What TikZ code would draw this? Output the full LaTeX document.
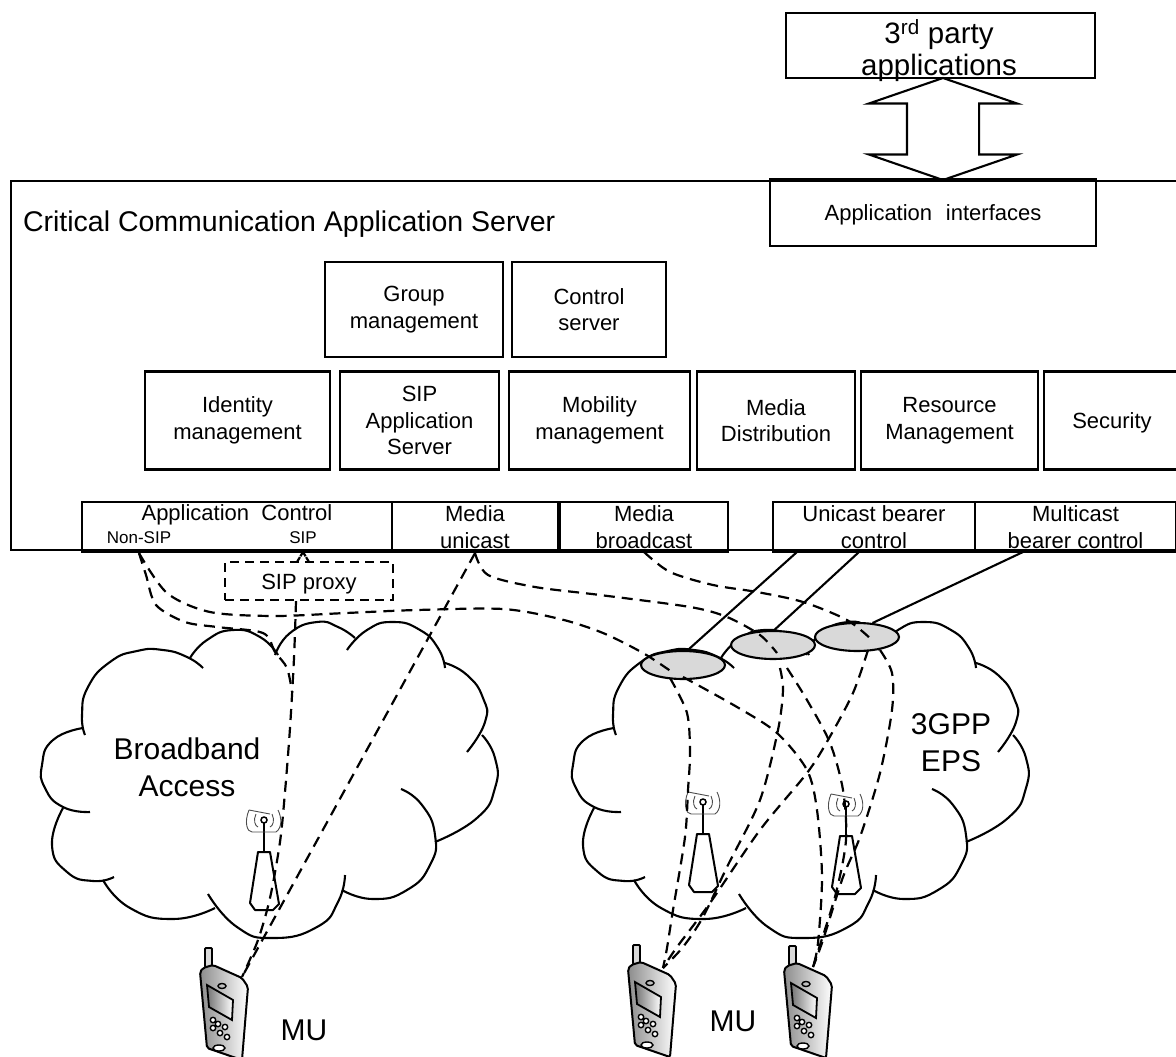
\documentclass[tikz,border=0pt]{standalone}
\usepackage{fontspec}
\setmainfont{Liberation Sans}
\usetikzlibrary{shapes.geometric,shapes.arrows}

\begin{document}
\begin{tikzpicture}[
    x=1pt, y=-1pt,
    line width=2.1pt,
    every node/.style={inner sep=0pt, align=center, font=\fontsize{22}{26.5}\selectfont},
    buscell/.style={draw=black, line width=2.2pt},
    blockbox/.style={buscell, execute at begin node=\rule{0pt}{21pt}},
    sublabel/.style={font=\fontsize{17}{20}\selectfont},
    biglabel/.style={font=\fontsize{30}{37}\selectfont},
    radiolink/.style={dash pattern=on 11pt off 7pt, line width=2.2pt},
    lobe/.style={smooth, tension=.9},
    bearer/.style={draw=black, ellipse, fill=black!15, minimum width=84pt, minimum height=28pt, line width=2.1pt},
    pics/accesscloud/.style={code={
      \draw plot[lobe] coordinates {(85,735) (82,715) (88,687) (110,662) (137,651) (163,650) (187,657) (203,668)};
      \draw plot[lobe] coordinates {(190,658) (207,640) (233,630) (260,637) (278,655)};
      \draw plot[lobe] coordinates {(275,655) (290,633) (317,622) (338,627) (355,638)};
      \draw plot[lobe] coordinates {(347,650) (367,630) (393,622) (420,630) (438,648) (445,668)};
      \draw plot[lobe] coordinates {(445,663) (467,675) (483,698) (485,722) (467,752)};
      \draw plot[lobe] coordinates {(482,735) (495,758) (495,788) (477,818) (435,842)};
      \draw plot[lobe] coordinates {(401,789) (422,805) (435,835) (430,865) (407,890) (373,899) (342,890)};
      \draw plot[lobe] coordinates {(345,875) (338,902) (317,927) (273,938) (237,927) (208,894)};
      \draw plot[lobe] coordinates {(215,908) (173,919) (130,908) (103,880)};
      \draw plot[lobe] coordinates {(114,877) (93,881) (67,872) (52,845) (63,808)};
      \draw plot[lobe] coordinates {(90,812) (63,807) (45,788) (42,765) (53,740) (83,728)};
    }},
    pics/celltower/.style={code={
      \draw[line width=2pt, line join=round] (-6,32) -- (6,32) -- (15,84) -- (9,90) -- (-9,90) -- (-14,83) -- cycle;
      \draw[line width=2.4pt] (0,3) -- (0,32);
      \draw[line width=1.5pt] (0,0) circle (3pt);
      \draw[black!70, line width=.9pt] (-15,-10) .. controls (-20,2) and (-17,12) .. (-12,12) -- (12,12) .. controls (18,8) and (18,-2) .. (14,-10);
      \draw[black!70, line width=.9pt] (-15,-10) -- (6,-6);
      \draw[black!70, line width=.9pt] (-8,-6) .. controls (-11,0) and (-9,6) .. (-6,7);
      \draw[black!70, line width=.9pt] (8,-6) .. controls (11,0) and (9,6) .. (6,7);
    }},
    pics/handset/.style={code={
      \draw[fill=black!15, line width=1.8pt, rounded corners=1pt] (3,-22) rectangle (10,-3);
      \draw[left color=black!45, right color=white, line width=2pt, rounded corners=2pt] (-2,2) -- (1,-2) -- (11,-5) -- (40,8) -- (46,17) -- (40,90) -- (5,78) -- cycle;
      \draw[left color=black!55, right color=white, line width=1.8pt] (5,15) -- (31,30) -- (30,50) -- (7,37) -- cycle;
      \draw[line width=1.4pt] (20,16) ellipse (4pt and 2.5pt);
      \draw[fill=white, line width=1.4pt] (11,50) circle (2.7pt) (16,54) circle (2.7pt) (23,57) circle (2.7pt) (11,58) circle (2.7pt) (18,63) circle (2.7pt) (25,67) circle (2.7pt);
      \draw[fill=white, line width=1.4pt] (17,78) ellipse (6pt and 3pt);
    }}
    ]

    \useasboundingbox (0,0) rectangle (1176,1057);
    \clip (0,0) rectangle (1176,1057);

    \node[buscell, minimum width=1169pt, minimum height=369pt] (ccserver) at (595.5,365.5) {};
    \node[anchor=west, font=\fontsize{28.5}{32}\selectfont] (cctitle) at (22,224) {Critical Communication Application Server};

    \node[buscell, minimum width=309pt, minimum height=65pt] (thirdparty) at (940.5,45.5) {};
    \node[font=\fontsize{29.5}{32}\selectfont] (thirdtext) at (939,51) {3\textsuperscript{rd} party\\applications};
    \node[blockbox, minimum width=326pt, minimum height=67pt] (appinterfaces) at (933,212.5) {Application\hspace{.35em} interfaces};
    \node[draw=black, double arrow, rotate=90, minimum height=102pt, minimum width=146pt, inner xsep=0pt, inner ysep=35pt,
      double arrow head extend=38pt, double arrow tip angle=142] (apilink) at (943,129) {};

    \node[blockbox, minimum width=178pt, minimum height=95pt] (groupmgmt) at (414,309.5) {Group\\management};
    \node[buscell, minimum width=154pt, minimum height=95pt] (controlsrv) at (589,309.5) {Control\\server};

    \node[blockbox, minimum width=185pt, minimum height=98pt] (identity) at (237.5,420.5) {Identity\\management};
    \node[blockbox, minimum width=159pt, minimum height=98pt] (sipas) at (419.5,420.5) {SIP\\Application\\Server};
    \node[blockbox, minimum width=181pt, minimum height=98pt] (mobility) at (599.5,420.5) {Mobility\\management};
    \node[buscell, minimum width=158pt, minimum height=98pt] (mediadist) at (776,420.5) {Media\\Distribution};
    \node[blockbox, minimum width=177pt, minimum height=98pt] (resource) at (949.5,420.5) {Resource\\Management};
    \node[blockbox, minimum width=136pt, minimum height=98pt] (security) at (1112,420.5) {Security};

    \node[buscell, minimum width=310pt, minimum height=50pt] (appcontrol) at (237,527) {};
    \node (apptext) at (237,514.5) {Application\hspace{.28em} Control};
    \node[sublabel] (nonsip) at (139,538) {Non-SIP};
    \node[sublabel] (sip) at (303,538) {SIP};
    \node[buscell, minimum width=166pt, minimum height=50pt] (mediauni) at (475,527) {Media\\unicast};
    \node[buscell, minimum width=168pt, minimum height=50pt] (mediabroad) at (644,527) {Media\\broadcast};
    \node[buscell, minimum width=202pt, minimum height=50pt] (unicast) at (874,527) {Unicast bearer\\control};
    \node[buscell, minimum width=201pt, minimum height=50pt] (multicast) at (1075.5,527) {Multicast\\bearer control};

    \node[blockbox, dash pattern=on 9pt off 6pt, minimum width=168pt, minimum height=38pt] (sipproxy) at (309,581) {SIP proxy};

    \pic (broadcloud) at (0,0) {accesscloud};
    \pic (epscloud) at (531,0) {accesscloud};

    \node[biglabel] (broadtext) at (187,767) {Broadband\\Access};
    \node[biglabel] (epstext) at (951,743) {3GPP\\EPS};
    \node[biglabel] (muleft) at (304,1030) {MU};
    \node[biglabel] (muright) at (733,1021) {MU};

    \node[bearer] (bearerA) at (683,665) {};
    \node[bearer] (bearerB) at (773,645) {};
    \node[bearer] (bearerC) at (857,637) {};

    \pic (towerA) at (264,820) {celltower};
    \pic (towerB) at (703,802) {celltower};
    \pic (towerC) at (846,804) {celltower};

    \pic (phoneA) at (202,970) {handset};
    \pic (phoneB) at (630,967) {handset};
    \pic (phoneC) at (786,968) {handset};

    \coordinate (muA) at (242,977);
    \coordinate (muB) at (663,968);
    \coordinate (muC) at (813,967);
    \coordinate (sipend) at (303,552);
    \coordinate (uniportA) at (797,552);
    \coordinate (uniportB) at (859,552);
    \coordinate (multiport) at (1023,552);

    \draw (uniportA) -- (bearerA.72);
    \draw (uniportB) -- (bearerB.85);
    \draw (multiport) -- (bearerC.42);

    \draw[radiolink] plot[smooth] coordinates {(nonsip.south |- appcontrol.south) (146,575) (156,605) (185,622) (217,627) (263,633) (275,652) (287,668) (292,692)};
    \draw[radiolink] plot[smooth] coordinates {(nonsip.south |- appcontrol.south) (167,593) (210,612) (274,616) (346,613) (417,610) (503,609) (560,619) (603,633) (643,653) (672,672)};
    \draw[radiolink, dash pattern=on 5pt off 1pt] (sipend) -- (297,562) (sipend) -- (309,562);
    \draw[radiolink] plot[smooth] coordinates {(sipproxy.south -| 296,0) (294,658) (290,728) (285,792) (280,842) (270,898) (258,940) (muA)};
    \draw[radiolink] (mediauni.south) -- (muA);
    \draw[radiolink] plot[smooth] coordinates {(mediauni.south) (488,575) (535,587) (600,595) (690,607) (727,617) (760,635) (777,653)};
    \draw[radiolink] plot[smooth] coordinates {(mediabroad.south |- 653,552) (670,572) (713,585) (757,592) (803,602) (847,620) (872,640)};
    \draw[radiolink] plot[smooth] coordinates {(670,678) (687,713) (690,753) (688,790) (685,837) (673,910) (667,948) (muB)};
    \draw[radiolink] plot[smooth] coordinates {(683,677) (737,707) (777,733) (807,770) (817,810) (822,877) (818,943) (muC)};
    \draw[radiolink] plot[smooth] coordinates {(780,668) (783,690) (778,730) (760,800) (727,867) (703,917) (683,947) (muB)};
    \draw[radiolink] plot[smooth] coordinates {(787,668) (807,700) (830,743) (843,790) (846,840) (836,893) (820,945) (muC)};
    \draw[radiolink] plot[smooth] coordinates {(868,650) (853,693) (828,740) (807,773) (760,830) (710,903) (677,947) (muB)};
    \draw[radiolink] plot[smooth] coordinates {(880,650) (892,673) (892,710) (880,773) (860,837) (843,877) (823,940) (muC)};

\end{tikzpicture}
\end{document}
